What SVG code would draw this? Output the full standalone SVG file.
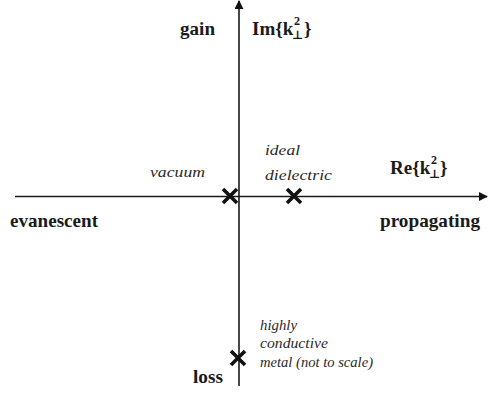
<svg xmlns="http://www.w3.org/2000/svg" width="488" height="396" viewBox="0 0 488 396" font-family="'Liberation Serif', 'DejaVu Serif', serif">
<style>
.b{font-weight:bold;font-size:19px;fill:#1a1a1a}
.i{font-style:italic;font-size:15.5px;fill:#2a2a2a}
.s{font-size:12px}
.ax{stroke:#1a1a1a;stroke-width:1.6;fill:none}
.x{stroke:#111;stroke-width:3.6;stroke-linecap:butt}
</style>
<defs>
<marker id="ah" viewBox="0 0 10 10" refX="9" refY="5" markerWidth="9" markerHeight="9" markerUnits="userSpaceOnUse" orient="auto">
<path d="M0,0 L10,5 L0,10 z" fill="#111"/>
</marker>
</defs>
<g id="connectors">
<line class="ax" x1="239" y1="386" x2="239" y2="1" marker-end="url(#ah)"/>
<line class="ax" x1="15" y1="196.5" x2="487" y2="196.5" marker-end="url(#ah)"/>
</g>
<g id="vacuum">
<path class="x" d="M223,189 L237,203 M237,189 L223,203"/>
<text class="i" x="150" y="177" textLength="55" lengthAdjust="spacingAndGlyphs">vacuum</text>
</g>
<g id="ideal-dielectric">
<path class="x" d="M287,189 L301,203 M301,189 L287,203"/>
<text class="i" x="265" y="155" textLength="35" lengthAdjust="spacingAndGlyphs">ideal</text>
<text class="i" x="265" y="180" textLength="67" lengthAdjust="spacingAndGlyphs">dielectric</text>
</g>
<g id="metal">
<path class="x" d="M231,351 L245,365 M245,351 L231,365"/>
<text class="i" x="260" y="330" textLength="37" lengthAdjust="spacingAndGlyphs">highly</text>
<text class="i" x="260" y="348" textLength="68" lengthAdjust="spacingAndGlyphs">conductive</text>
<text class="i" x="260" y="367" textLength="113" lengthAdjust="spacingAndGlyphs">metal (not to scale)</text>
</g>
<g id="labels">
<text class="b" x="180" y="35" textLength="35" lengthAdjust="spacingAndGlyphs">gain</text>
<text class="b" x="252" y="35">Im{k</text>
<text class="b s" x="294" y="25">2</text>
<text class="b s" x="292" y="39">⊥</text>
<text class="b" x="304" y="35">}</text>
<text class="b" x="390" y="174">Re{k</text>
<text class="b s" x="431" y="164">2</text>
<text class="b s" x="429" y="178">⊥</text>
<text class="b" x="440" y="174">}</text>
<text class="b" x="10" y="227" textLength="88" lengthAdjust="spacingAndGlyphs">evanescent</text>
<text class="b" x="380" y="227" textLength="100" lengthAdjust="spacingAndGlyphs">propagating</text>
<text class="b" x="193" y="383" textLength="30" lengthAdjust="spacingAndGlyphs">loss</text>
</g>
</svg>
